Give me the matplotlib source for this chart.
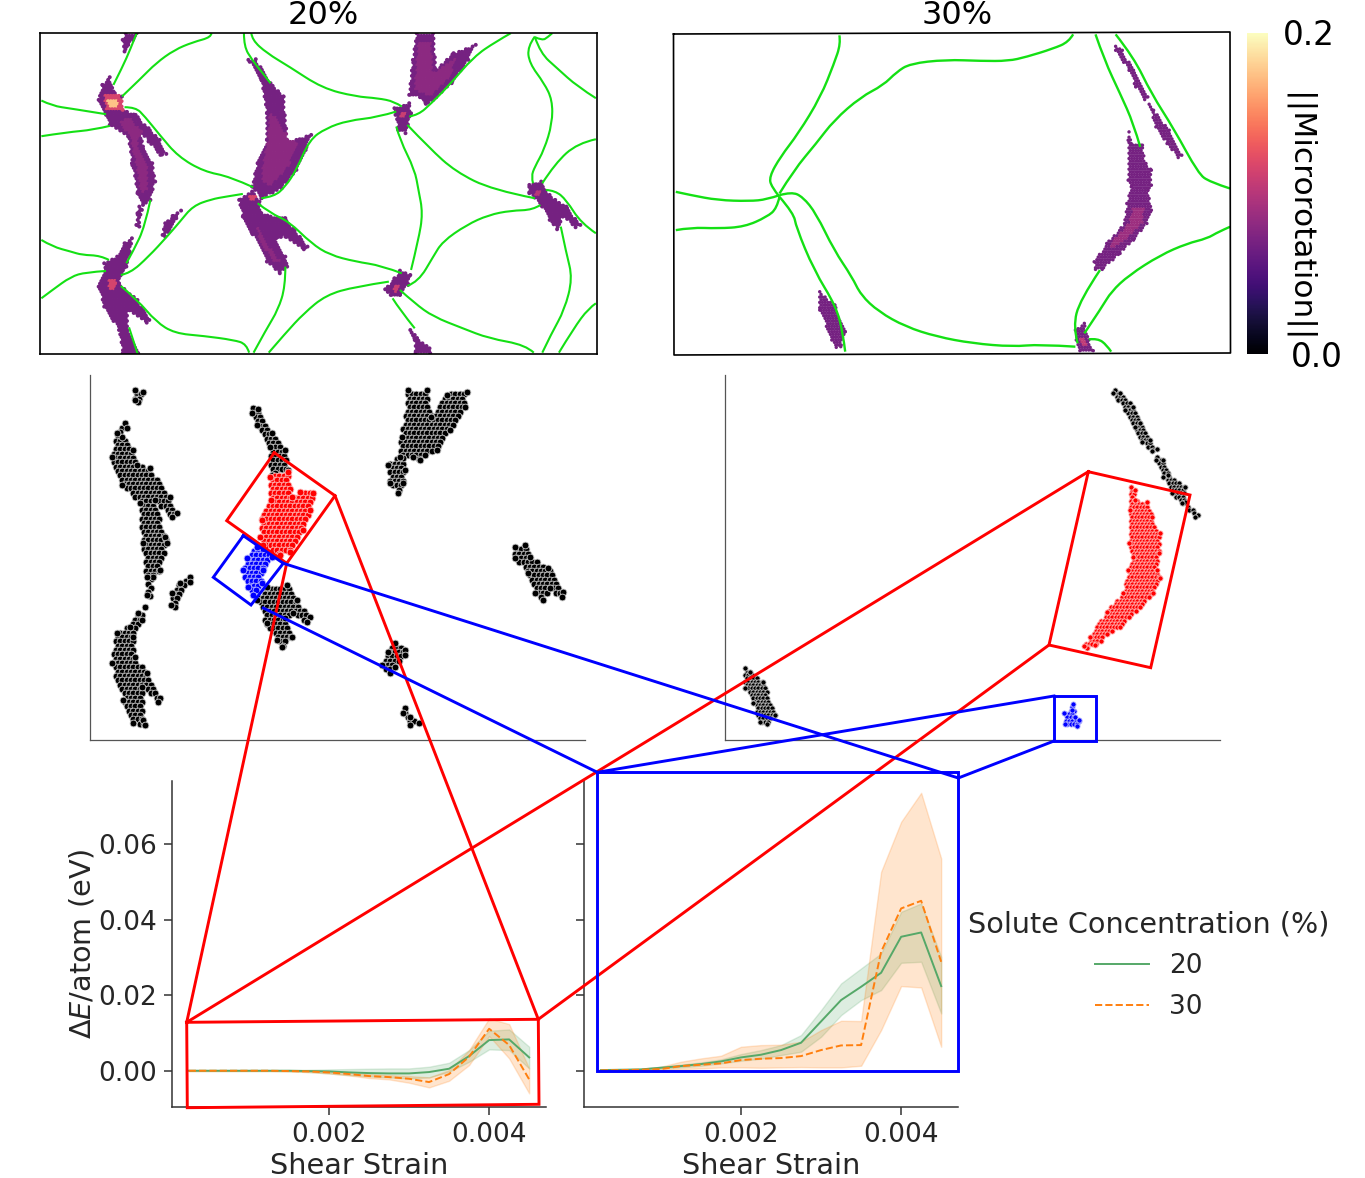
import numpy as np
import matplotlib
matplotlib.use('Agg')
import matplotlib.pyplot as plt
from matplotlib.path import Path
from matplotlib.patches import PathPatch
from matplotlib.cm import ScalarMappable
from matplotlib.colors import Normalize

W, H = 1365, 1178
TXT = '#262626'

# ---- top panels, grain boundaries (panel units) ----
gb_20 = [
    [(288,100),(270,150),(250,200),(225,255)],
    [(490,100),(490,112),(440,127),(390,150),(340,190),(300,235),(248,290)],
    [(30,302),(60,318),(110,326),(205,343)],
    [(30,409),(100,397),(170,390),(215,378)],
    [(255,322),(285,322),(310,350),(350,405),(400,470),(470,515),(540,530),(603,562)],
    [(598,100),(600,120),(640,160),(700,200),(790,265),(880,290),(940,295),(985,305),(1005,320)],
    [(578,100),(578,140),(600,180),(625,215),(650,250)],
    [(625,595),(660,590),(690,560),(720,510),(755,420),(800,385),(860,362),(940,352),(990,335)],
    [(325,600),(310,680),(280,750),(260,790)],
    [(245,825),(270,820),(320,770),(370,710),(405,665),(440,618),(490,598),(530,590),(575,582)],
    [(30,720),(60,740),(110,755),(140,765),(190,767),(213,780)],
    [(30,895),(60,870),(110,830),(150,817),(205,813)],
    [(245,858),(290,900),(340,965),(390,1000),(470,1008),(550,1020),(585,1032),(592,1058)],
    [(268,985),(290,1060)],
    [(615,610),(650,640),(700,665),(760,730),(810,765),(880,785),(950,797),(1005,820)],
    [(690,800),(690,860),(670,930),(640,985),(604,1058)],
    [(645,1058),(690,1000),(740,940),(800,885),(880,860),(970,845)],
    [(990,380),(1000,420),(1040,510),(1050,570),(1062,640),(1050,720),(1030,810)],
    [(1020,375),(1080,445),(1150,515),(1250,570),(1365,595)],
    [(1025,350),(1050,345),(1085,310),(1130,260),(1200,170),(1260,125),(1300,100)],
    [(1020,858),(1050,845),(1090,770),(1115,725),(1180,675),(1240,645),(1300,632),(1360,630),(1380,615)],
    [(1000,870),(1040,910),(1090,950),(1170,985),(1240,1015),(1340,1035),(1362,1058)],
    [(980,895),(1000,930),(1040,985)],
    [(1365,110),(1345,140),(1350,190),(1390,250),(1412,300),(1412,370),(1390,450),(1365,500),(1355,530),(1360,550)],
    [(1365,112),(1385,122),(1400,112),(1412,100)],
    [(1365,112),(1380,160),(1425,205),(1480,260),(1530,295)],
    [(1385,550),(1420,490),(1480,430),(1530,418)],
    [(1395,570),(1420,572),(1450,600),(1490,670),(1530,700)],
    [(1435,680),(1450,760),(1467,835),(1445,930),(1410,1000),(1385,1058)],
    [(1430,1058),(1470,985),(1510,925),(1530,910)],
]
gb_30 = [
    [(402,105),(405,130),(390,190),(360,290),(310,400),(270,470),(245,530),(250,560),(268,590)],
    [(925,102),(915,125),(880,145),(820,170),(780,182),(720,182),(640,178),(560,190),(530,215),(500,255),(450,290),(390,360),(350,430),(300,510),(268,580)],
    [(36,575),(70,585),(130,600),(200,603),(240,598),(268,585)],
    [(36,690),(70,682),(130,685),(190,680),(240,650),(262,625),(268,590)],
    [(268,585),(295,575),(320,590),(350,640),(390,750),(430,830),(450,885),(490,935),(550,980),(620,1010),(700,1030),(790,1040),(850,1033),(930,1040)],
    [(268,590),(300,640),(305,680),(345,810),(395,920),(410,1000),(415,1055)],
    [(975,102),(995,180),(1030,280),(1060,370),(1075,440)],
    [(1020,102),(1060,170),(1100,280),(1150,385),(1205,520),(1230,545),(1276,565)],
    [(985,810),(940,900),(925,980),(935,1030)],
    [(950,1000),(990,920),(1010,875),(1050,825),(1120,765),(1180,730),(1225,715),(1250,695),(1276,680)],
    [(960,1018),(980,1015),(1000,1035),(1010,1055)],
]

# ---- top panels, regions with microrotation ----
rot_20 = [
    [(258,100),(288,100),(278,120),(265,135),(255,155),(250,120)],
    [(215,232),(225,275),(248,290),(250,330),(285,345),(320,385),(350,420),(368,462),(352,465),(320,425),(300,395),(305,440),(330,490),(338,545),(325,600),(305,615),(290,580),(275,490),(265,410),(215,375),(205,345),(185,300),(195,255)],
    [(295,620),(302,630),(295,680),(287,675),(290,640)],
    [(408,632),(395,655),(365,710),(358,705),(365,670),(385,648)],
    [(590,180),(610,178),(650,250),(685,290),(695,420),(720,420),(760,405),(745,450),(720,510),(680,565),(625,595),(600,560),(615,490),(640,420),(640,340),(625,240)],
    [(565,600),(600,575),(620,605),(625,640),(650,650),(690,655),(715,690),(750,740),(740,748),(690,710),(665,715),(690,770),(695,800),(675,820),(640,785),(600,700),(575,650)],
    [(1045,100),(1090,100),(1098,210),(1145,160),(1205,135),(1185,180),(1140,250),(1090,300),(1070,312),(1062,295),(1025,285),(1035,180)],
    [(985,325),(1025,310),(1030,340),(1015,400),(995,390),(988,345)],
    [(1350,555),(1382,545),(1390,570),(1420,600),(1450,620),(1488,675),(1475,682),(1440,650),(1425,688),(1405,660),(1385,620),(1350,580)],
    [(275,715),(270,760),(260,800),(245,825),(240,850),(290,900),(322,960),(315,968),(265,930),(262,990),(292,1060),(250,1060),(240,990),(200,920),(185,860),(205,810),(200,790),(235,770),(255,730)],
    [(1000,812),(1028,825),(1022,855),(1000,885),(975,885),(960,868),(985,835)],
    [(1028,990),(1040,1005),(1080,1045),(1082,1060),(1042,1060),(1040,1020)],
]
rot_30 = [
    [(358,875),(392,915),(415,995),(405,1040),(395,1042),(385,1020),(358,930)],
    [(930,990),(950,970),(960,1020),(970,1052),(940,1052),(932,1020)],
    [(1050,395),(1055,430),(1080,435),(1088,490),(1100,510),(1100,555),(1092,570),(1100,630),(1090,670),(1060,720),(1030,760),(990,808),(975,808),(972,785),(1000,730),(1040,670),(1045,610),(1055,560),(1048,540),(1048,420)],
    [(1020,138),(1035,150),(1060,210),(1092,290),(1085,298),(1065,260),(1050,210),(1020,150)],
    [(1095,312),(1105,330),(1140,390),(1168,465),(1160,472),(1135,430),(1110,380)],
]
# lighter core regions and the value they carry
core_20 = [
    [(265,350),(300,395),(290,440),(320,500),(320,570),(300,580),(285,480),(270,410),(240,370)],
    [(650,330),(690,400),(725,430),(700,500),(650,560),(625,540),(640,440)],
    [(1050,130),(1085,130),(1090,220),(1160,170),(1130,240),(1085,290),(1040,270)],
    [(610,660),(640,730),(680,790),(660,790),(620,720)],
]
core_20_vals = [0.08, 0.08, 0.08, 0.08]
hot_20 = [
    [(198,285),(245,285),(250,330),(205,330)],
    [(210,298),(235,298),(238,320),(212,320)],
    [(210,835),(235,845),(225,870),(212,865)],
    [(590,590),(612,582),(610,605),(595,608)],
    [(1000,340),(1015,340),(1012,355),(1002,355)],
    [(1365,572),(1380,572),(1380,590),(1368,585)],
    [(980,862),(1000,855),(995,880),(985,880)],
]
hot_20_vals = [0.115, 0.175, 0.115, 0.115, 0.11, 0.1, 0.11]
core_30 = [
    [(1060,620),(1085,620),(1080,670),(1040,720),(1010,750),(1010,730),(1050,670)],
    [(938,1010),(952,1010),(958,1040),(945,1040)],
]
core_30_vals = [0.088, 0.105]

# ---- middle panels, selected atoms ----
atoms_20_black = [
    [(165,60),(190,65),(175,95),(165,90)],
    [(135,160),(140,175),(125,200),(160,240),(170,285),(210,295),(270,380),(290,430),(275,440),(225,390),(255,500),(260,520),(240,600),(220,620),(210,678),(200,675),(200,620),(190,520),(180,400),(125,345),(95,260),(110,190)],
    [(330,620),(330,635),(285,710),(272,705),(275,670),(300,640)],
    [(520,115),(535,118),(575,190),(615,240),(625,300),(575,315),(570,230),(530,165),(515,130)],
    [(530,690),(560,650),(620,645),(650,690),(690,740),(680,755),(640,730),(615,745),(635,800),(605,830),(590,810),(560,760)],
    [(985,60),(1040,60),(1052,140),(1100,75),(1160,65),(1155,110),(1110,180),(1070,240),(1020,270),(1000,260),(970,265),(975,300),(970,340),(955,368),(930,340),(925,285),(960,260),(965,200)],
    [(1305,530),(1335,525),(1350,560),(1405,595),(1450,665),(1445,680),(1410,655),(1390,690),(1365,670),(1345,610),(1305,565)],
    [(945,820),(975,840),(975,855),(945,890),(930,910),(905,885),(925,845)],
    [(975,1015),(990,1040),(1018,1058),(990,1065),(970,1030)],
    [(195,710),(185,750),(160,800),(165,860),(200,910),(240,985),(235,997),(185,950),(190,1050),(195,1065),(160,1060),(130,990),(95,880),(110,790),(150,770),(175,730)],
]
atoms_20_red = [[(570,320),(625,305),(637,380),(660,365),(700,370),(690,420),(670,480),(630,545),(600,555),(550,525),(540,500),(545,450),(572,390)]]
atoms_20_blue = [[(530,530),(575,560),(550,600),(545,640),(520,675),(505,650),(490,600),(500,565)]]
atoms_30_black = [
    [(1185,60),(1200,70),(1240,110),(1260,160),(1290,210),(1310,238),(1295,242),(1265,215),(1245,170),(1215,120),(1180,70)],
    [(1310,260),(1330,270),(1345,315),(1395,350),(1395,395),(1435,435),(1425,442),(1385,400),(1355,370),(1330,320),(1308,270)],
    [(75,895),(90,905),(130,935),(165,1035),(140,1062),(120,1055),(100,1000),(75,955)],
]
atoms_30_red = [[(1232,352),(1245,360),(1245,390),(1280,395),(1295,440),(1320,490),(1318,550),(1310,600),(1320,625),(1300,670),(1260,710),(1200,770),(1125,825),(1100,835),(1092,828),(1110,800),(1160,725),(1210,670),(1225,600),(1240,560),(1228,520),(1230,420)]]
atoms_30_blue = [[(1058,1002),(1066,1040),(1078,1050),(1070,1068),(1035,1062),(1032,1028),(1055,1020)]]

# ---- bottom panels, energy vs strain ----
strain = [0.00025,0.0005,0.00075,0.001,0.00125,0.0015,0.00175,0.002,0.00225,0.0025,0.00275,0.003,0.00325,0.0035,0.00375,0.004,0.00425,0.0045]

red_20_mean = [.00009,.00009,.00009,.00009,.00009,.00009,0,-.00009,-.00035,-.00053,-.00062,-.00062,-.00026,.00062,.00396,.00819,.00837,.00361]
red_20_hi = [.00018,.00018,.00018,.00018,.00018,.00026,.00035,.00044,.00053,.00062,.0007,.0007,.00115,.0022,.00555,.01066,.01101,.00643]
red_20_lo = [0,0,0,0,0,-.00009,-.00026,-.00062,-.00106,-.00141,-.00167,-.00194,-.00167,-.00018,.00247,.00573,.00555,.0007]
red_30_mean = [.00009,.00009,.00009,.00009,.00009,0,-.00009,-.00035,-.00079,-.00132,-.00159,-.00203,-.00291,-.00079,.00379,.01119,.00687,-.0022]
red_30_hi = [.00018,.00018,.00018,.00018,.00018,.00009,.00009,-.00009,-.00044,-.00079,-.00106,-.00132,-.00167,.00026,.00555,.01392,.01242,.0007]
red_30_lo = [0,0,0,0,0,-.00009,-.00026,-.00062,-.00115,-.00185,-.0022,-.00308,-.00432,-.00256,.00159,.00925,.00335,-.0059]

blue_20_mean = [.00026,.00035,.00044,.00088,.00132,.00185,.00255,.00361,.00432,.00555,.00749,.01313,.01877,.02229,.02599,.03551,.03665,.02247]
blue_20_hi = [.00035,.00044,.00062,.00115,.00167,.00229,.00308,.00449,.00555,.00687,.00952,.01612,.02317,.02714,.0311,.04211,.04432,.03022]
blue_20_lo = [.00018,.00026,.00035,.00062,.00097,.00141,.00203,.00273,.00326,.00423,.00511,.00907,.0148,.01877,.02141,.02863,.0289,.01524]
blue_30_mean = [.00018,.00026,.00035,.00053,.00132,.00167,.00203,.00291,.00326,.00344,.00396,.00555,.00678,.00687,.03154,.043,.04502,.0289]
blue_30_hi = [.00026,.00035,.00053,.00115,.00247,.00335,.00405,.00643,.00687,.00696,.00775,.01084,.0133,.01322,.05269,.0659,.07357,.05621]
blue_30_lo = [.00009,.00018,.00026,.00035,.00053,.0007,.00097,.00097,.00088,.00097,.00106,.00097,.00097,.00141,.01084,.02247,.02211,.00643]

x_ticks = [0.002, 0.004]
y_ticks = [0.0, 0.02, 0.04, 0.06]

GREEN = '#55a868'
ORANGE = '#ff7f0e'
GB_GREEN = '#14e014'


def px_axes(fig, x0, y0, x1, y1, **kw):
    # axes placed by reference pixels
    return fig.add_axes([x0 / W, 1 - y1 / H, (x1 - x0) / W, (y1 - y0) / H], **kw)


def lattice(outline, step_x, step_y):
    # sites of a hex lattice that fall inside a traced outline
    outline = np.array(outline, float)
    path = Path(outline)
    xs, ys = [], []
    for i, y in enumerate(np.arange(outline[:, 1].min(), outline[:, 1].max() + step_y, step_y)):
        for x in np.arange(outline[:, 0].min() - step_x, outline[:, 0].max() + step_x, step_x):
            xs.append(x + (step_x / 2 if i % 2 else 0))
            ys.append(y)
    pts = np.column_stack([xs, ys])
    pts = pts[path.contains_points(pts)]
    return np.vstack([pts, outline])


def draw_rotation(ax, regions, cores, core_vals, step_x, step_y, size):
    pts = np.vstack([lattice(r, step_x, step_y) for r in regions])
    vals = np.full(len(pts), 0.068)
    for poly, v in zip(cores, core_vals):
        vals[Path(np.array(poly)).contains_points(pts)] = v
    ax.scatter(pts[:, 0], pts[:, 1], c=vals, cmap='magma', vmin=0, vmax=0.2, s=size, linewidths=0)


def draw_boundary(ax, line, lw):
    # rounded curve through the traced points of a grain boundary
    xy = np.array(line, float)
    if len(xy) < 3:
        ax.plot(xy[:, 0], xy[:, 1], color=GB_GREEN, lw=lw)
        return
    verts = [xy[0]]
    codes = [Path.MOVETO]
    for i in range(1, len(xy) - 1):
        end = xy[-1] if i == len(xy) - 2 else (xy[i] + xy[i + 1]) / 2
        verts += [xy[i], end]
        codes += [Path.CURVE3, Path.CURVE3]
    ax.add_patch(PathPatch(Path(verts, codes), fc='none', ec=GB_GREEN, lw=lw))


def draw_atoms(ax, regions, color, rim, step, size):
    pts = np.vstack([lattice(r, step, step) for r in regions])
    ax.scatter(pts[:, 0], pts[:, 1], c=color, s=size, edgecolors=rim, linewidths=0.6)


def draw_energy(ax, m20, lo20, hi20, m30, lo30, hi30):
    ax.fill_between(strain, lo20, hi20, color=GREEN, alpha=0.2)
    ax.fill_between(strain, lo30, hi30, color=ORANGE, alpha=0.2)
    ax.plot(strain, m20, color=GREEN, lw=1.4, label='20')
    ax.plot(strain, m30, color=ORANGE, lw=1.4, ls='--', label='30')
    ax.set_xlim(0.00004, 0.00471)
    ax.set_ylim(-0.0095, 0.0767)
    ax.set_xticks(x_ticks)
    ax.set_yticks(y_ticks)
    ax.xaxis.set_major_formatter('{x:.3f}')
    ax.yaxis.set_major_formatter('{x:.2f}')
    ax.spines[['top', 'right']].set_visible(False)
    ax.spines[['left', 'bottom']].set_color('#333333')
    ax.spines[['left', 'bottom']].set_linewidth(1.1)
    ax.tick_params(length=6, width=1.1, color='#333333', labelcolor=TXT, labelsize=19, pad=5)
    ax.set_xlabel('Shear Strain', fontsize=20.7, color=TXT, labelpad=3)
    ax.patch.set_alpha(0)


fig = plt.figure(figsize=(W / 100, H / 100), dpi=100)

# top panels
ax_20 = px_axes(fig, 39.5, 32.5, 597, 354)
ax_20.set_xlim(25, 1533)
ax_20.set_ylim(1062, 98)
draw_rotation(ax_20, rot_20, core_20 + hot_20, core_20_vals + hot_20_vals, 7.3, 8, 8)
for line in gb_20:
    draw_boundary(ax_20, line, 1.5)
ax_20.set_xticks([])
ax_20.set_yticks([])
for s in ax_20.spines.values():
    s.set_linewidth(1.2)

ax_30 = px_axes(fig, 674, 33, 1230.5, 354)
ax_30.set_xlim(32, 1277)
ax_30.set_ylim(1062, 98)
draw_rotation(ax_30, rot_30, core_30, core_30_vals, 6, 8, 6)
for line in gb_30:
    draw_boundary(ax_30, line, 1.7)
ax_30.axis('off')

# colourbar
cax = px_axes(fig, 1247, 33, 1268, 354)
cb = fig.colorbar(ScalarMappable(Normalize(0, 0.2), 'magma'), cax=cax)
cb.set_ticks([])
cb.outline.set_visible(False)

# middle panels
ax_m20 = px_axes(fig, 90.3, 375, 585, 740)
ax_m20.set_xlim(31, 1515)
ax_m20.set_ylim(1110, 15)
draw_atoms(ax_m20, atoms_20_black, 'black', '#cccccc', 13, 24)
draw_atoms(ax_m20, atoms_20_red, 'red', '#ffc0c0', 13, 24)
draw_atoms(ax_m20, atoms_20_blue, 'blue', '#c0c0ff', 13, 24)

ax_m30 = px_axes(fig, 725, 375, 1220, 740)
ax_m30.set_xlim(15, 1500)
ax_m30.set_ylim(1110, 15)
draw_atoms(ax_m30, atoms_30_black, 'black', '#cccccc', 10, 14)
draw_atoms(ax_m30, atoms_30_red, 'red', '#ffc0c0', 10, 14)
draw_atoms(ax_m30, atoms_30_blue, 'blue', '#c0c0ff', 10, 14)

for ax in [ax_m20, ax_m30]:
    ax.spines[['top', 'right']].set_visible(False)
    ax.spines[['left', 'bottom']].set_color('#555555')
    ax.spines[['left', 'bottom']].set_linewidth(0.9)
    ax.set_xticks([])
    ax.set_yticks([])
    ax.patch.set_alpha(0)

# bottom panels
ax_b20 = px_axes(fig, 172, 781, 546, 1107)
draw_energy(ax_b20, red_20_mean, red_20_lo, red_20_hi, red_30_mean, red_30_lo, red_30_hi)
ax_b20.set_ylabel(r'$\Delta E$/atom (eV)', fontsize=20.7, color=TXT, labelpad=1)

ax_b30 = px_axes(fig, 584, 781, 958, 1107)
draw_energy(ax_b30, blue_20_mean, blue_20_lo, blue_20_hi, blue_30_mean, blue_30_lo, blue_30_hi)
ax_b30.tick_params(axis='y', labelleft=False)

handles, labels = ax_b30.get_legend_handles_labels()
leg = fig.legend(handles, labels, title='Solute Concentration (%)', frameon=False,
                 fontsize=19, title_fontsize=20.6, loc='upper left',
                 bbox_to_anchor=(944 / W, 1 - 887 / H), handlelength=2.05, handletextpad=0.75,
                 labelspacing=0.55, labelcolor=TXT)
leg.get_title().set_color(TXT)

# overlay in reference pixels: frames, zoom lines and labels
ov = fig.add_axes([0, 0, 1, 1], zorder=10)
ov.set_xlim(0, W)
ov.set_ylim(H, 0)
ov.axis('off')

frame_30 = [(673.5, 34), (1230, 32), (1230.5, 353), (674, 355), (673.5, 34)]
red_box_20 = [(274.3, 452.7), (335, 495.7), (286.7, 563.3), (226.7, 520.7), (274.3, 452.7)]
blue_box_20 = [(243.3, 535.7), (283.3, 563.3), (251, 605), (213.3, 577.3), (243.3, 535.7)]
red_box_30 = [(1088.3, 471.7), (1190, 495), (1150.7, 667.7), (1049, 645), (1088.3, 471.7)]
blue_box_30 = [(1054, 696), (1096, 696), (1096, 741), (1054, 741), (1054, 696)]
red_box_low = [(186.7, 1022.3), (538.3, 1019.3), (539, 1104.3), (187.3, 1107.7), (186.7, 1022.3)]
blue_box_low = [(597.3, 772.3), (958.3, 772.3), (958.3, 1071.3), (597.3, 1071.3), (597.3, 772.3)]
red_links = [[(335, 495.7), (538.3, 1019.3)], [(286.7, 563.3), (186.7, 1022.3)],
             [(186.7, 1022.3), (1088.3, 471.7)], [(538.3, 1019.3), (1049, 645)]]
blue_links = [[(283.3, 563.3), (958.3, 778)], [(263.3, 608), (597.3, 772.3)],
              [(597.3, 772.3), (1054, 696)], [(958.3, 778), (1054, 741)]]

xy = np.array(frame_30)
ov.plot(xy[:, 0], xy[:, 1], color='black', lw=1.2)
for shape in [red_box_20, red_box_30, red_box_low] + red_links:
    xy = np.array(shape)
    ov.plot(xy[:, 0], xy[:, 1], color='#ff0000', lw=2.1, solid_joinstyle='miter')
for shape in [blue_box_20, blue_box_30, blue_box_low] + blue_links:
    xy = np.array(shape)
    ov.plot(xy[:, 0], xy[:, 1], color='#0000ff', lw=2.1, solid_joinstyle='miter')

ov.text(323, 23.5, '20%', fontsize=23, ha='center', va='baseline', color='black')
ov.text(957, 23.5, '30%', fontsize=23, ha='center', va='baseline', color='black')
ov.text(1283, 45, '0.2', fontsize=23.5, ha='left', va='baseline', color='black')
ov.text(1291, 367, '0.0', fontsize=23.5, ha='left', va='baseline', color='black')
ov.text(1298, 218, '||Microrotation||', fontsize=22.5, rotation=-90, ha='center', va='center', color='black')

fig.savefig('out.png', dpi=100)
plt.close(fig)
